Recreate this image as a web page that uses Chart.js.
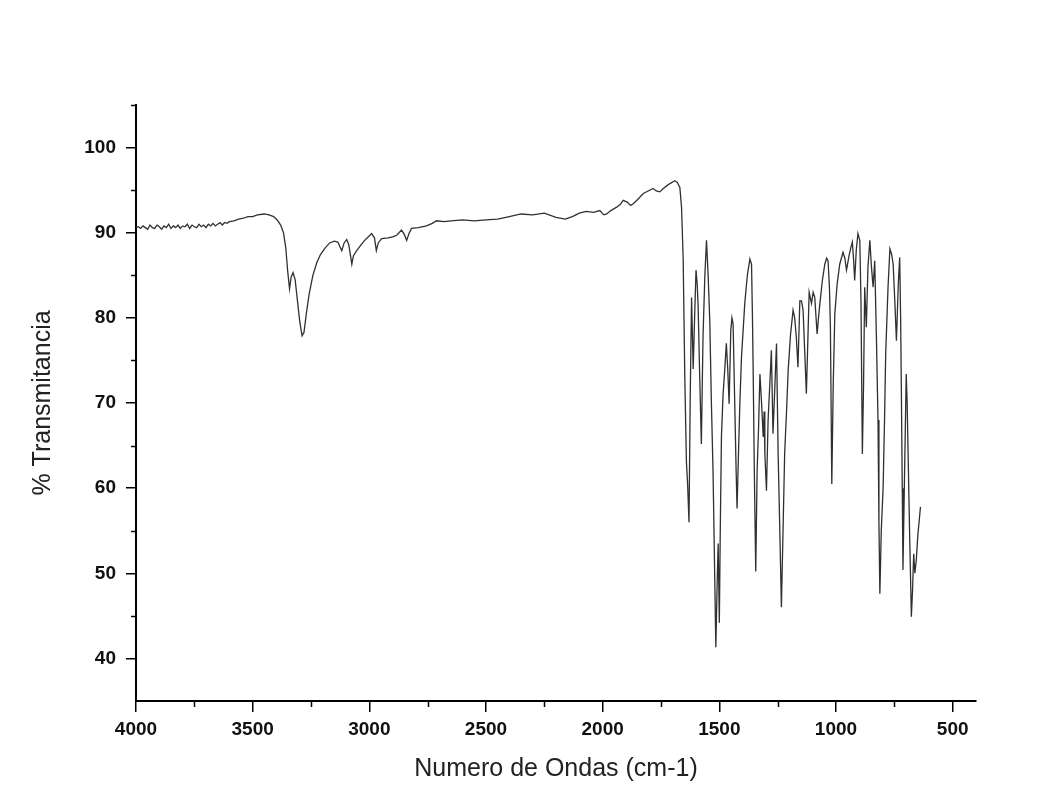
<!DOCTYPE html>
<html>
<head>
<meta charset="utf-8">
<script src="https://cdn.jsdelivr.net/npm/chart.js@4/dist/chart.umd.min.js"></script>
<style>
  body { margin: 0; background: #fff; }
  #box { width: 1052px; height: 791px; }
</style>
</head>
<body>
<div id="box"><canvas id="ir_chart"></canvas></div>
<script>
// IR spectrum: wavenumber (cm-1) and % transmittance
var wavenumbers = [
  4000, 3990, 3980, 3970, 3960, 3950, 3940, 3930, 3920, 3910, 3900, 3890, 3880, 3870, 3860,
  3850, 3840, 3830, 3820, 3810, 3800, 3790, 3780, 3770, 3760, 3750, 3740, 3730, 3720, 3710,
  3700, 3690, 3680, 3670, 3660, 3650, 3640, 3630, 3620, 3610, 3600, 3580, 3560, 3540, 3520,
  3500, 3480, 3450, 3430, 3410, 3395, 3380, 3368, 3358, 3350, 3342, 3335, 3327, 3318, 3308,
  3298, 3288, 3280, 3270, 3258, 3242, 3225, 3210, 3190, 3170, 3150, 3135, 3125, 3118, 3108,
  3097, 3088, 3080, 3075, 3068, 3054, 3035, 3020, 3005, 2990, 2978, 2970, 2962, 2947, 2920,
  2900, 2883, 2862, 2850, 2840, 2830, 2819, 2790, 2755, 2730, 2712, 2680, 2650, 2600, 2550,
  2500, 2450, 2400, 2350, 2300, 2250, 2200, 2160, 2130, 2100, 2070, 2040, 2012, 1995, 1983,
  1965, 1940, 1925, 1912, 1895, 1880, 1869, 1850, 1826, 1805, 1784, 1770, 1755, 1740, 1726,
  1710, 1691, 1680, 1669, 1662, 1655, 1648, 1641, 1636, 1630, 1625, 1619, 1612, 1606, 1600,
  1595, 1591, 1584, 1577, 1570, 1562, 1555, 1548, 1541, 1534, 1527, 1520, 1515, 1510, 1505,
  1500, 1496, 1491, 1484, 1477, 1470, 1464, 1458, 1451, 1446, 1441, 1434, 1428, 1424, 1418,
  1412, 1405, 1391, 1380, 1369, 1362, 1358, 1355, 1350, 1344, 1338, 1332, 1326, 1319, 1312,
  1308, 1305, 1298, 1291, 1284, 1277, 1270, 1262, 1255, 1248, 1240, 1234, 1227, 1220, 1212,
  1205, 1195, 1184, 1177, 1170, 1163, 1155, 1148, 1141, 1134, 1127, 1120, 1115, 1105, 1098,
  1091, 1081, 1075, 1069, 1058, 1048, 1040, 1034, 1028, 1024, 1018, 1012, 1005, 995, 984,
  970, 962, 955, 944, 937, 930, 925, 920, 913, 906, 898, 893, 887, 882, 877,
  870, 863, 855, 848, 841, 834, 827, 820, 816, 812, 806, 798, 792, 787, 777,
  769, 762, 755, 748, 741, 733, 727, 723, 720, 716, 713, 706, 699, 695, 691,
  684, 677, 672, 667, 662, 656, 649, 644, 638
];
var transmittance = [
  90.6, 90.7, 90.5, 90.8, 90.6, 90.4, 90.9, 90.6, 90.5, 90.9, 90.7, 90.4, 90.8, 90.6, 91.0,
  90.5, 90.8, 90.6, 90.9, 90.5, 90.8, 90.7, 91.0, 90.5, 90.9, 90.7, 90.6, 91.0, 90.7, 90.9,
  90.6, 91.0, 90.8, 91.1, 90.8, 91.0, 91.2, 90.9, 91.2, 91.1, 91.3, 91.4, 91.6, 91.7, 91.9,
  91.9, 92.1, 92.2, 92.1, 91.9, 91.5, 90.9, 90.0, 88.2, 85.5, 83.4, 84.8, 85.3, 84.5, 82.0,
  79.5, 77.9, 78.3, 80.5, 82.8, 85.0, 86.5, 87.4, 88.2, 88.8, 89.0, 88.9, 88.3, 87.9, 88.8,
  89.2, 88.6, 87.2, 86.3, 87.3, 87.9, 88.6, 89.1, 89.5, 89.9, 89.4, 87.9, 88.8, 89.3, 89.4,
  89.5, 89.7, 90.3, 89.8, 89.1, 89.9, 90.5, 90.6, 90.8, 91.1, 91.4, 91.3, 91.4, 91.5, 91.4,
  91.5, 91.6, 91.9, 92.2, 92.1, 92.3, 91.8, 91.6, 91.9, 92.3, 92.5, 92.4, 92.6, 92.1, 92.2,
  92.6, 93.0, 93.3, 93.8, 93.6, 93.2, 93.4, 93.9, 94.6, 94.9, 95.2, 94.9, 94.8, 95.2, 95.5,
  95.8, 96.1, 95.9, 95.3, 93.0, 87.0, 73.0, 63.0, 60.5, 56.0, 70.0, 82.4, 74.0, 80.0, 85.6,
  84.0, 81.5, 73.0, 65.2, 77.7, 85.0, 89.1, 85.0, 79.7, 70.0, 62.0, 50.0, 41.3, 48.0, 53.5,
  44.2, 55.0, 66.0, 71.0, 73.8, 77.0, 74.0, 69.9, 78.5, 80.0, 79.3, 70.0, 62.0, 57.6, 64.0,
  70.0, 75.4, 81.7, 85.0, 86.9, 86.3, 80.0, 73.8, 62.0, 50.2, 62.1, 67.0, 73.4, 70.0, 66.0,
  69.0, 64.1, 59.7, 68.0, 72.0, 76.2, 66.4, 72.0, 77.0, 64.1, 54.0, 46.0, 55.0, 64.1, 69.0,
  73.8, 78.0, 80.9, 80.0, 77.7, 74.2, 82.0, 82.0, 80.9, 76.0, 71.1, 78.0, 83.0, 81.7, 83.0,
  82.4, 78.1, 80.0, 81.7, 84.5, 86.3, 87.0, 86.7, 83.5, 78.9, 60.5, 72.0, 80.5, 84.0, 86.3,
  87.7, 87.0, 85.6, 87.3, 88.2, 88.9, 87.0, 84.4, 88.0, 89.9, 89.1, 82.0, 64.0, 72.0, 83.6,
  78.9, 86.0, 89.1, 86.0, 83.6, 86.7, 78.0, 68.0, 56.0, 47.6, 55.0, 60.1, 68.0, 75.8, 83.6,
  88.1, 87.5, 86.3, 82.0, 77.3, 84.0, 87.1, 80.0, 71.9, 60.0, 50.4, 62.0, 73.4, 70.0, 64.1,
  54.0, 44.9, 48.0, 52.3, 50.0, 51.5, 54.6, 56.0, 57.8
];

var xTicks = [4000, 3500, 3000, 2500, 2000, 1500, 1000, 500];
var xMinorTicks = [3750, 3250, 2750, 2250, 1750, 1250, 750];
var yTicks = [40, 50, 60, 70, 80, 90, 100];
var yMinorTicks = [45, 55, 65, 75, 85, 95, 105];

var points = wavenumbers.map(function (w, i) {
  return { x: w, y: transmittance[i] };
});

// short outward ticks between the labelled ones
var minorTicks = {
  id: 'minorTicks',
  afterDraw: function (chart) {
    var ctx = chart.ctx;
    var xs = chart.scales.x;
    var ys = chart.scales.y;
    var area = chart.chartArea;
    ctx.save();
    ctx.strokeStyle = '#000';
    ctx.lineWidth = 1.5;
    ctx.beginPath();
    xMinorTicks.forEach(function (v) {
      var px = Math.round(xs.getPixelForValue(v)) + 0.5;
      ctx.moveTo(px, area.bottom);
      ctx.lineTo(px, area.bottom + 6);
    });
    yMinorTicks.forEach(function (v) {
      var py = Math.round(ys.getPixelForValue(v)) + 0.5;
      ctx.moveTo(area.left, py);
      ctx.lineTo(area.left - 5, py);
    });
    ctx.stroke();
    ctx.restore();
  }
};

Chart.defaults.font.family = "'Liberation Sans', Arial, sans-serif";
Chart.defaults.color = '#111';

new Chart('ir_chart', {
  type: 'line',
  data: {
    datasets: [{
      data: points,
      borderColor: '#303030',
      borderWidth: 1.3,
      pointRadius: 0,
      tension: 0,
      fill: false
    }]
  },
  options: {
    responsive: true,
    maintainAspectRatio: false,
    animation: false,
    layout: { padding: { top: 105, right: 76, left: 0, bottom: 0 } },
    plugins: {
      legend: { display: false },
      tooltip: { enabled: false }
    },
    scales: {
      x: {
        type: 'linear',
        reverse: true,
        min: 400,
        max: 4000,
        afterBuildTicks: function (axis) {
          axis.ticks = xTicks.map(function (v) { return { value: v }; });
        },
        afterFit: function (axis) { axis.height = 90; },
        ticks: {
          font: { size: 19, weight: 'bold' },
          padding: 6,
          maxRotation: 0,
          autoSkip: false,
          callback: function (v) { return String(v); }
        },
        grid: {
          display: true,
          drawOnChartArea: false,
          drawTicks: true,
          tickLength: 11,
          color: '#000',
          lineWidth: 1.5
        },
        border: { display: true, color: '#000', width: 2 },
        title: {
          display: true,
          text: 'Numero de Ondas (cm-1)',
          color: '#222',
          font: { size: 25 },
          padding: { top: 0, bottom: 7 }
        }
      },
      y: {
        min: 35,
        max: 105,
        afterBuildTicks: function (axis) {
          axis.ticks = yTicks.map(function (v) { return { value: v }; });
        },
        afterFit: function (axis) { axis.width = 136; },
        ticks: {
          font: { size: 19, weight: 'bold' },
          padding: 10,
          autoSkip: false,
          callback: function (v) { return String(v); }
        },
        grid: {
          display: true,
          drawOnChartArea: false,
          drawTicks: true,
          tickLength: 10,
          color: '#000',
          lineWidth: 1.5
        },
        border: { display: true, color: '#000', width: 2 },
        title: {
          display: true,
          text: '% Transmitancia',
          color: '#222',
          font: { size: 25 },
          padding: { top: 28, bottom: 0 }
        }
      }
    }
  },
  plugins: [minorTicks]
});
</script>
</body>
</html>
